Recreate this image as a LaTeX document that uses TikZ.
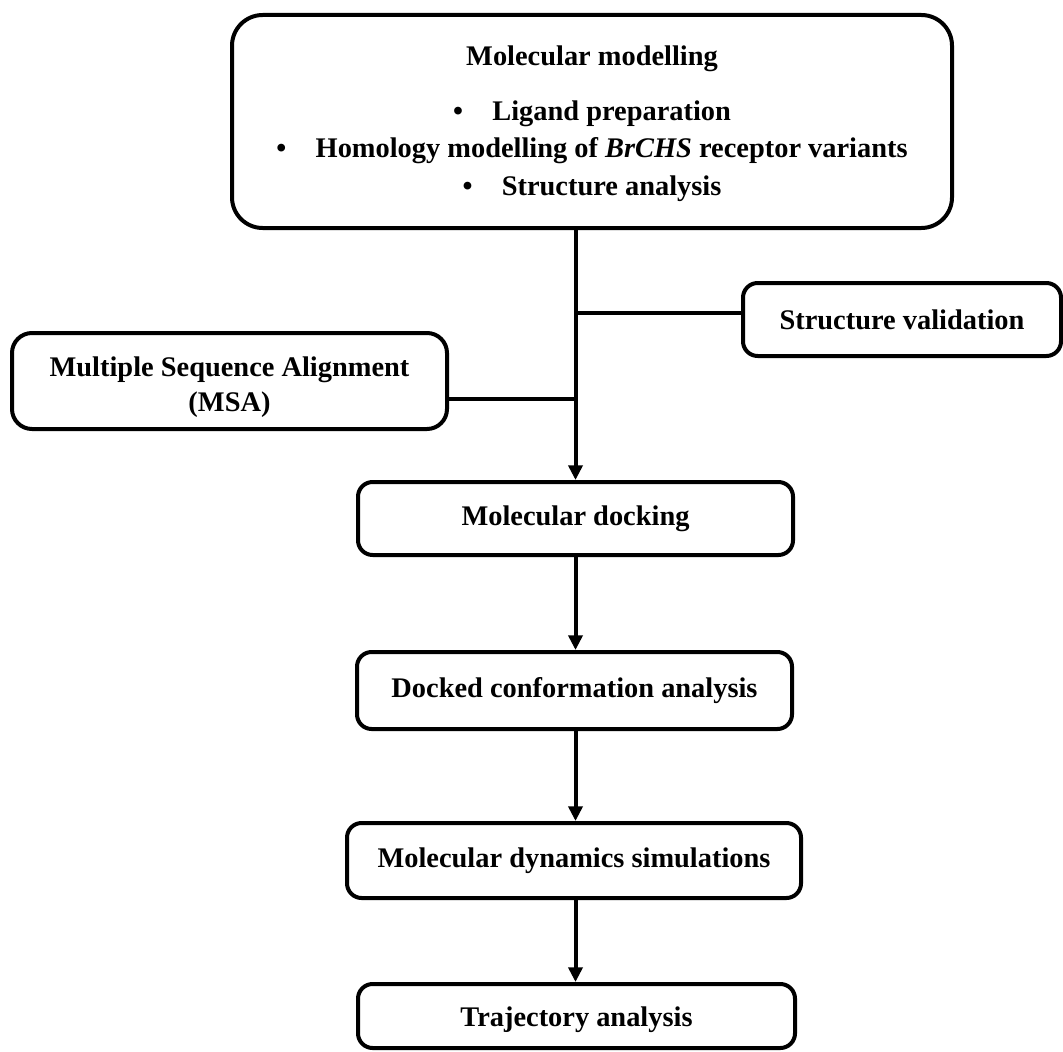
\documentclass[tikz,border=0pt]{standalone}
\usepackage{fontspec}
\setmainfont{Liberation Serif}
\usetikzlibrary{arrows.meta,calc}
\tikzset{
  box/.style={draw=black, line width=3pt, fill=white, rounded corners=11pt, inner sep=0pt,
    align=center, font=\fontsize{21.3}{26}\selectfont\bfseries},
  conn/.style={draw=black, line width=3pt},
  arr/.style={conn, -{Triangle[width=10.5pt,length=11pt]}},
}
\begin{document}
\begin{tikzpicture}[x=0.75pt,y=-0.75pt]
\useasboundingbox (0,0) rectangle (1063,1052);
% boxes
\node[box, rounded corners=23pt, minimum width=540pt, minimum height=159.75pt,
      font=\fontsize{21.3}{28}\selectfont\bfseries] (top) at (592,121.5)
  {\rule{0pt}{18pt}Molecular modelling\\[13pt]
   \textbullet\hspace{22pt}Ligand preparation\\
   \textbullet\hspace{22pt}Homology modelling of \textit{BrCHS} receptor variants\\
   \textbullet\hspace{22pt}Structure analysis};
\node[box, minimum width=238.5pt, minimum height=54.75pt] (sv) at (902,319.5) {Structure validation};
\node[box, rounded corners=15pt, minimum width=326.25pt, minimum height=72pt] (msa) at (229.5,381)
  {\rule{0pt}{24pt}Multiple Sequence Alignment\\(MSA)};
\node[box, minimum width=326.25pt, minimum height=54.75pt] (dock) at (575.5,518.5) {Molecular docking};
\node[box, minimum width=326.25pt, minimum height=57.75pt] (docked) at (574.5,690.5) {Docked conformation analysis};
\node[box, minimum width=340.5pt, minimum height=56.25pt] (md) at (574,860.5) {Molecular dynamics simulations};
\node[box, minimum width=327.75pt, minimum height=48pt] (traj) at (576.5,1016) {\rule{0pt}{20pt}Trajectory analysis};
% junction points
\coordinate (svj) at ($(sv.north west)!0.41!(sv.south west)$);
\coordinate (msaj) at ($(msa.north east)!0.68!(msa.south east)$);
% connectors
\draw[arr] (dock.north |- top.south) -- (dock.north);
\draw[conn] (svj) -- (svj -| dock.north);
\draw[conn] (msaj) -- (msaj -| dock.north);
\draw[arr] (dock.south) -- (dock.south |- docked.north);
\draw[arr] (dock.south |- docked.south) -- (dock.south |- md.north);
\draw[arr] (dock.south |- md.south) -- (dock.south |- traj.north);
\end{tikzpicture}
\end{document}
